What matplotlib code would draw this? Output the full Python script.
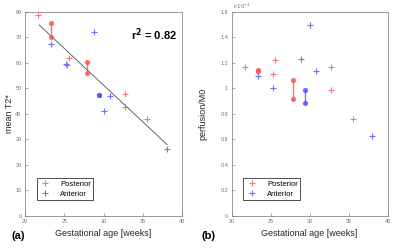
import numpy as np
import matplotlib
matplotlib.use("Agg")
import matplotlib.pyplot as plt
from matplotlib.ticker import FuncFormatter

plt.rcParams['font.family'] = ['Liberation Sans', 'DejaVu Sans']

# single measurements
post_age = [21.7, 25.3, 25.6, 32.8, 32.8, 35.5]
post_t2 = [78.7, 59.2, 61.8, 47.8, 42.9, 38.2]
post_perf = [1.168e-3, 1.116e-3, 1.223e-3, 1.168e-3, 0.985e-3, 0.759e-3]

ant_age = [23.35, 25.25, 28.85, 30.0, 30.85, 38.05]
ant_t2 = [67.3, 59.6, 72.0, 41.3, 47.1, 26.4]
ant_perf = [1.097e-3, 1.006e-3, 1.231e-3, 1.50e-3, 1.136e-3, 0.626e-3]

# repeated measurements (same subject, joined by a line)
post_pair_age = [23.35, 27.85]
post_pair_t2 = [[75.5, 70.3], [60.5, 56.2]]
post_pair_perf = [[1.144e-3, 1.134e-3], [1.066e-3, 0.919e-3]]

ant_pair_age = [29.4]
ant_pair_t2 = [[47.6, 47.3]]
ant_pair_perf = [[0.990e-3, 0.885e-3]]

# linear fit shown in panel (a)
fit_x = [21.8, 38.1]
fit_y = [74.9, 28.0]

red = (1.0, 0.3, 0.3)
blue = (0.3, 0.3, 1.0)
gray = '0.45'

fig = plt.figure(figsize=(4, 2.48), dpi=100)
ax1 = fig.add_axes([0.0625, 0.129, 0.3925, 0.823])
ax2 = fig.add_axes([0.579, 0.129, 0.39, 0.823])


def draw_panel(ax, post_y, ant_y, post_pair, ant_pair):
    for a, ys in zip(post_pair_age, post_pair):
        ax.plot([a, a], ys, '-', color=red, lw=1, alpha=0.8, zorder=2)
        ax.plot([a, a], ys, 'o', color=red, ms=2.8, alpha=0.7, mec=red, zorder=3)
    for a, ys in zip(ant_pair_age, ant_pair):
        ax.plot([a, a], ys, '-', color=blue, lw=1, alpha=0.8, zorder=2)
        ax.plot([a, a], ys, 'o', color=blue, ms=2.8, alpha=0.7, mec=blue, zorder=3)
    ax.plot(post_age, post_y, '+', color=red, ms=4, mew=0.8, alpha=0.8,
            label='Posterior', zorder=3)
    ax.plot(ant_age, ant_y, '+', color=blue, ms=4, mew=0.8, alpha=0.8,
            label='Anterior', zorder=3)
    ax.set_xlim(20, 40)
    ax.set_xticks([20, 25, 30, 35, 40])
    ax.tick_params(direction='in', length=2, width=0.4, colors=gray,
                   labelsize=4, pad=2.5, top=False, right=False)
    for s in ax.spines.values():
        s.set_color(gray)
        s.set_linewidth(0.5)
    ax.set_xlabel('Gestational age [weeks]', fontsize=6.5, labelpad=3, color='0.15')
    leg = ax.legend(loc='lower left', bbox_to_anchor=(0.05, 0.06), fontsize=5.5,
                    fancybox=False, edgecolor='0.2', framealpha=1,
                    handlelength=1.6, borderpad=0.3, labelspacing=0.3,
                    handletextpad=1.2)
    leg.get_frame().set_linewidth(0.6)
    for h in leg.legend_handles:
        h.set_markersize(5)


draw_panel(ax1, post_t2, ant_t2, post_pair_t2, ant_pair_t2)
ax1.plot(fit_x, fit_y, '-', color='0.3', lw=0.6, zorder=1)
ax1.set_ylim(0, 80)
ax1.set_yticks(np.arange(0, 81, 10))
ax1.set_ylabel('mean T2*', fontsize=6.5, color='0.15')
ax1.yaxis.set_label_coords(-0.073, 0.5)
ax1.text(0.97, 0.93, 'r$^\\mathbf{2}$ = 0.82', transform=ax1.transAxes,
         ha='right', va='top', fontsize=8, fontweight='bold')
fig.text(0.03, 0.035, '(a)', fontsize=8, fontweight='bold')

draw_panel(ax2, post_perf, ant_perf, post_pair_perf, ant_pair_perf)
ax2.set_ylim(0, 1.6e-3)
ax2.set_yticks(np.arange(0, 1.61e-3, 0.2e-3))
ax2.yaxis.set_major_formatter(FuncFormatter(lambda v, p: f'{v * 1e3:.1f}'.rstrip('0').rstrip('.')))
ax2.set_ylabel('perfusion/M0', fontsize=6.5, color='0.15')
ax2.yaxis.set_label_coords(-0.152, 0.5)
ax2.text(0.0, 1.005, '$\\times10^{-3}$', transform=ax2.transAxes,
         ha='left', va='bottom', fontsize=4, color=gray)
fig.text(0.505, 0.035, '(b)', fontsize=8, fontweight='bold')

fig.savefig('out.png', dpi=100)
